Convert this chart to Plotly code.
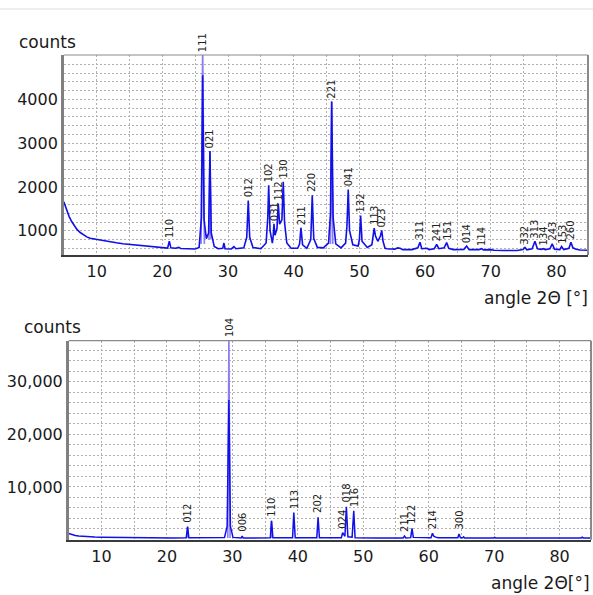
import plotly.graph_objects as go

# ---------------- upper panel: aragonite pattern ----------------
top_angle = [
    5.0, 5.4, 5.8, 6.2, 6.6, 7.0, 7.5, 8.0, 8.5, 9.0, 10.0, 11.0, 12.0, 13.0,
    14.0, 15.0, 16.0, 17.0, 18.0, 19.0, 20.0, 20.8, 21.06, 21.3, 22.0, 22.5,
    22.8, 24.0, 25.0, 25.6, 25.95, 26.14, 26.35, 26.7, 27.05, 27.25, 27.45,
    27.9, 28.5, 29.2, 29.38, 29.55, 30.5, 30.9, 31.2, 32.4, 32.85, 33.08,
    33.3, 33.8, 35.0, 35.8, 36.05, 36.19, 36.4, 36.75, 36.88, 36.99, 37.15,
    37.45, 37.65, 37.85, 38.2, 38.41, 38.6, 38.95, 39.6, 40.6, 40.9, 41.10,
    41.35, 42.0, 42.6, 42.82, 43.05, 43.6, 44.5, 45.3, 45.6, 45.78, 46.0,
    46.4, 47.2, 47.9, 48.1, 48.30, 48.5, 49.0, 49.8, 50.0, 50.19, 50.4,
    51.2, 51.9, 52.1, 52.25, 52.45, 52.8, 53.2, 53.4, 53.6, 53.9, 54.2, 55.4,
    55.8, 56.2, 56.6, 58.0, 58.9, 59.22, 59.5, 60.3, 60.6, 61.4, 61.76,
    62.1, 62.9, 63.28, 63.6, 64.3, 65.9, 66.33, 66.7, 68.2, 68.61, 68.9,
    70.0, 70.5, 72.0, 74.0, 74.9, 75.20, 75.5, 76.3, 76.72, 77.1, 77.7,
    77.98, 78.3, 79.0, 79.35, 79.7, 80.5, 80.78, 81.1, 81.9, 82.20, 82.5,
    83.0, 83.6, 84.8,
]
top_counts = [
    1660, 1480, 1330, 1210, 1110, 1030, 960, 900, 860, 830, 800, 770, 745, 725,
    705, 690, 675, 660, 645, 630, 615, 605, 760, 610, 600, 620,
    595, 585, 585, 620, 1300, 4550, 1250, 820, 950, 2820, 950,
    640, 590, 600, 720, 590, 585, 640, 590, 610, 850, 1690,
    850, 620, 590, 720, 1300, 2040, 1000, 720, 880, 1160, 900,
    1050, 1620, 1150, 1250, 2120, 1200, 720, 600, 600, 700, 1070,
    680, 600, 800, 1810, 820, 620, 610, 720, 1400, 3950, 1300,
    700, 610, 720, 1100, 1940, 1000, 680, 650, 800, 1350, 760,
    620, 680, 850, 1060, 880, 760, 880, 1010, 760, 600, 590, 580,
    610, 600, 570, 570, 610, 740, 590, 600, 570, 590, 690,
    590, 610, 730, 600, 570, 575, 650, 570, 570, 590, 565,
    570, 555, 550, 550, 570, 620, 565, 590, 760, 590, 575,
    590, 570, 590, 700, 580, 570, 640, 570, 600, 740, 610,
    580, 560, 555,
]
# calculated reflection profile (violet)
top_calc_angle = [25.9, 26.14, 26.4, None, 27.1, 27.25, 27.4, None, 45.6, 45.78, 45.95]
top_calc_counts = [700, 5300, 700, None, 800, 2820, 800, None, 700, 3950, 700]

top_hkl = ["110", "111", "021", "012", "102", "031", "112", "130", "211", "220",
           "221", "041", "132", "113", "023", "311", "241", "151", "014", "114",
           "332", "313", "134", "243", "153", "260"]
top_hkl_angle = [21.06, 26.14, 27.25, 33.08, 36.19, 36.99, 37.65, 38.41, 41.10, 42.82,
                 45.78, 48.30, 50.19, 52.25, 53.40, 59.22, 61.76, 63.28, 66.33, 68.61,
                 75.20, 76.72, 77.98, 79.35, 80.78, 82.20]
top_hkl_counts = [760, 5010, 2820, 1690, 2040, 1160, 1620, 2120, 1070, 1810,
                  3950, 1940, 1350, 1060, 1010, 740, 690, 730, 650, 590,
                  620, 760, 590, 700, 640, 740]
top_yticks = [1000, 2000, 3000, 4000]

# ---------------- lower panel: calcite pattern ----------------
bot_angle = [
    5.0, 5.5, 6.0, 6.5, 7.0, 8.0, 9.0, 10.0, 12.0, 15.0, 18.0, 21.0, 22.95,
    23.16, 23.35, 26.0, 28.8, 29.2, 29.47, 29.7, 30.1, 31.35, 31.5, 31.65,
    35.8, 35.98, 36.2, 39.2, 39.39, 39.6, 42.9, 43.10, 43.3, 46.65, 46.85,
    47.2, 47.42, 47.65, 48.3, 48.55, 48.75, 52.0, 56.1, 56.3, 56.5, 57.25,
    57.45, 57.65, 60.35, 60.57, 60.8, 61.1, 61.4, 64.45, 64.63, 64.85, 65.2,
    65.34, 65.5, 69.9, 70.08, 70.25, 72.6, 72.8, 73.0, 76.8, 76.95, 77.1,
    81.1, 81.27, 81.45, 83.3, 83.46, 83.6, 84.8,
]
bot_counts = [
    1150, 920, 760, 650, 580, 500, 450, 420, 380, 350, 320, 300, 310,
    2430, 310, 300, 380, 2500, 26520, 2500, 400, 300, 665, 300,
    310, 3570, 310, 320, 5100, 320, 330, 4220, 330, 340, 1290,
    600, 6240, 500, 450, 5475, 350, 300, 300, 665, 300, 350,
    2130, 400, 330, 1180, 600, 450, 330, 330, 1045, 330, 330,
    500, 300, 300, 420, 300, 300, 420, 300, 300, 420, 300,
    300, 420, 300, 300, 450, 300, 300,
]
bot_calc_angle = [23.05, 23.16, 23.27, None, 29.3, 29.47, 29.65, None, 35.9, 35.98, 36.08]
bot_calc_counts = [300, 2430, 300, None, 300, 39000, 300, None, 300, 3570, 300]

bot_hkl = ["012", "104", "006", "110", "113", "202", "024", "018", "116",
           "211", "122", "214", "300"]
bot_hkl_angle = [23.16, 29.47, 31.50, 35.98, 39.39, 43.10, 46.85, 47.42, 48.55,
                 56.30, 57.45, 60.57, 64.63]
bot_hkl_counts = [2430, 37800, 665, 3570, 5100, 4220, 1290, 6240, 5475,
                  665, 2130, 1180, 1045]
bot_yticks = [10000, 20000, 30000]

W, H = 593, 595
FONT = "DejaVu Sans"
BLUE = "#1010e8"
VIOLET = "#8f7cf2"
GRID = "#b0b0b0"


def px(x):
    return x / W


def py(y):
    return 1 - y / H


fig = go.Figure()

fig.add_trace(go.Scatter(x=top_calc_angle, y=top_calc_counts, mode="lines",
                         line=dict(color=VIOLET, width=1.6), xaxis="x", yaxis="y",
                         hoverinfo="skip", showlegend=False))
fig.add_trace(go.Scatter(x=top_angle, y=top_counts, mode="lines",
                         line=dict(color=BLUE, width=1.6), xaxis="x", yaxis="y",
                         showlegend=False))
fig.add_trace(go.Scatter(x=bot_calc_angle, y=bot_calc_counts, mode="lines",
                         line=dict(color=VIOLET, width=1.6), xaxis="x2", yaxis="y2",
                         hoverinfo="skip", showlegend=False))
fig.add_trace(go.Scatter(x=bot_angle, y=bot_counts, mode="lines",
                         line=dict(color=BLUE, width=1.5), xaxis="x2", yaxis="y2",
                         showlegend=False))

tickfont = dict(family=FONT, size=16, color="#1a1a1a")


def xaxis_style(domain, anchor):
    return dict(
        domain=domain, anchor=anchor, range=[5, 84.8],
        tickmode="linear", tick0=0, dtick=10, ticks="",
        showgrid=True, gridcolor=GRID, griddash="2px,2px", gridwidth=1,
        minor=dict(dtick=5, tick0=0, showgrid=True, gridcolor=GRID,
                   griddash="2px,2px", gridwidth=1),
        showline=True, linecolor="#3a3a3a", linewidth=1.5,
        zeroline=False, tickfont=tickfont, ticklabelstandoff=1,
    )


fig.update_layout(
    width=W, height=H,
    margin=dict(l=0, r=0, t=0, b=0),
    paper_bgcolor="white", plot_bgcolor="white",
    xaxis=xaxis_style([px(63.8), px(588)], "y"),
    yaxis=dict(
        domain=[py(255), py(55)], anchor="x", range=[447, 5011],
        tickmode="array", tickvals=top_yticks, ticks="",
        showgrid=True, gridcolor=GRID, griddash="2px,2px", gridwidth=1,
        minor=dict(dtick=200, tick0=0, showgrid=True, gridcolor=GRID,
                   griddash="2px,2px", gridwidth=1),
        showline=True, linecolor="#808080", linewidth=2.5,
        zeroline=False, tickfont=tickfont, tickformat="d",
    ),
    xaxis2=xaxis_style([px(68.75), px(591)], "y2"),
    yaxis2=dict(
        domain=[py(539.8), py(340.7)], anchor="x2", range=[-60, 37800],
        tickmode="array", tickvals=bot_yticks, ticks="",
        showgrid=True, gridcolor=GRID, griddash="2px,2px", gridwidth=1,
        minor=dict(dtick=2000, tick0=0, showgrid=True, gridcolor=GRID,
                   griddash="2px,2px", gridwidth=1),
        showline=True, linecolor="#808080", linewidth=2.5,
        zeroline=False, tickfont=tickfont, tickformat=",d",
    ),
)

# plot frame: top and right edges of each panel
shapes = [
    dict(type="line", xref="paper", yref="paper", x0=0, x1=1, y0=py(9), y1=py(9),
         line=dict(color="#dcdcdc", width=1)),
]
for xa, ya in (("x", "y"), ("x2", "y2")):
    shapes.append(dict(type="line", xref=f"{xa} domain", yref=f"{ya} domain",
                       x0=0, x1=1, y0=1, y1=1, line=dict(color="#8a8a8a", width=1.2)))
    shapes.append(dict(type="line", xref=f"{xa} domain", yref=f"{ya} domain",
                       x0=1, x1=1, y0=0, y1=1, line=dict(color="#8a8a8a", width=2)))
fig.update_layout(shapes=shapes)

annotations = []
for lab, a, c in zip(top_hkl, top_hkl_angle, top_hkl_counts):
    annotations.append(dict(x=a, y=c, xref="x", yref="y", text=lab, showarrow=False,
                            textangle=-90, xanchor="center", yanchor="bottom",
                            yshift=2, borderpad=0,
                            font=dict(family=FONT, size=10, color="#222222")))
for lab, a, c in zip(bot_hkl, bot_hkl_angle, bot_hkl_counts):
    annotations.append(dict(x=a, y=c, xref="x2", yref="y2", text=lab, showarrow=False,
                            textangle=-90, xanchor="center", yanchor="bottom",
                            yshift=3, borderpad=0,
                            font=dict(family=FONT, size=10, color="#222222")))

titlefont = dict(family=FONT, size=17, color="#1a1a1a")
annotations += [
    dict(x=px(17), y=py(42), xref="paper", yref="paper", text="counts",
         showarrow=False, xanchor="left", yanchor="middle", font=titlefont),
    dict(x=px(22), y=py(327), xref="paper", yref="paper", text="counts",
         showarrow=False, xanchor="left", yanchor="middle", font=titlefont),
    dict(x=px(590), y=py(298), xref="paper", yref="paper", text="angle 2Θ [°]",
         showarrow=False, xanchor="right", yanchor="middle", font=titlefont),
    dict(x=px(592), y=py(583), xref="paper", yref="paper", text="angle 2Θ[°]",
         showarrow=False, xanchor="right", yanchor="middle", font=titlefont),
]
fig.update_layout(annotations=annotations)

fig.write_html("out.html")
